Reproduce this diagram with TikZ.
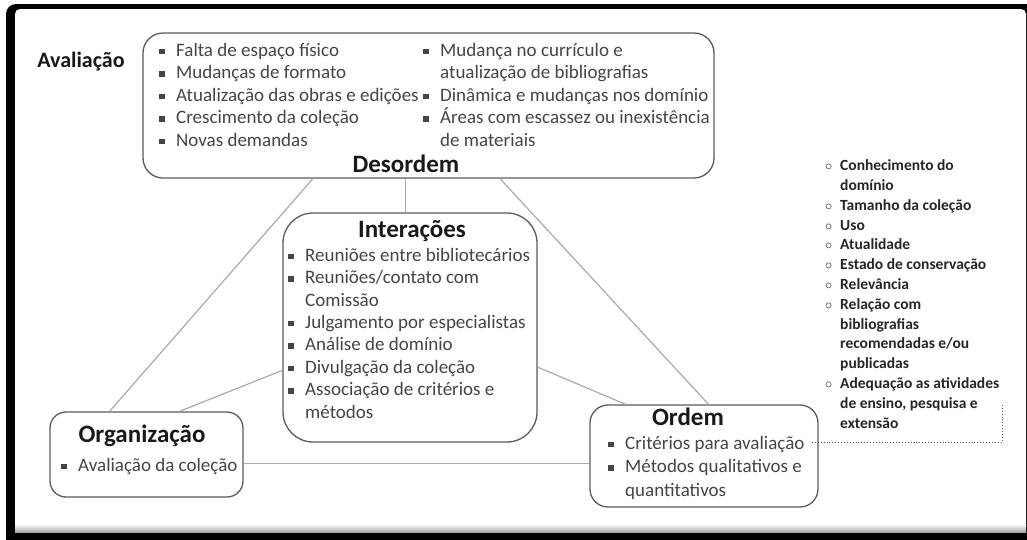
\documentclass[tikz,border=0pt]{standalone}
\usepackage{fontspec}
\setmainfont{Carlito}
\usetikzlibrary{calc}
\definecolor{itemgray}{HTML}{454545}
\definecolor{linkgray}{HTML}{ABABAB}
\definecolor{boxgray}{HTML}{5C5C5C}
\newcommand{\sqb}{\makebox[17pt][l]{\raisebox{2pt}{\rule{5.5pt}{5.5pt}}}}
\newcommand{\cnt}{\hspace*{17pt}}
\newcommand{\ob}{\makebox[15pt][l]{$\circ$}}

\begin{document}
\begin{tikzpicture}[x=1pt,y=-1pt,
    box/.style={draw=boxgray, line width=1.3pt, rounded corners=#1, inner sep=0pt},
    box/.default=18pt,
    title/.style={font=\fontsize{25}{30}\selectfont\bfseries, text=black!90, anchor=base},
    items/.style={font=\fontsize{19}{22.5}\selectfont, text=itemgray, align=left, inner sep=0pt, anchor=base west},
    crit/.style={font=\fontsize{15.5}{19.8}\selectfont\bfseries, text=black!85, align=left, inner sep=0pt, anchor=base west},
    link/.style={draw=linkgray, line width=1.2pt}]
    \useasboundingbox (0,0) rectangle (1027,539);
    % frame
    \fill[black, rounded corners=10pt] (6,4) rectangle (1045,560);
    \fill[white, rounded corners=5pt] (15,9) rectangle (1026,532);
    \shade[top color=white, bottom color=gray!70] (15,524) rectangle (1026,532);

    \node[box=20pt, minimum width=571pt, minimum height=145pt] (des) at (428.5,105.5) {};
    \node[box=30pt, minimum width=254pt, minimum height=229pt] (int) at (410,327.5) {};
    \node[box=16pt, minimum width=193pt, minimum height=85pt] (org) at (146.5,454.5) {};
    \node[box=18pt, minimum width=228pt, minimum height=102pt] (ord) at (704,456) {};

    \node[title, font=\fontsize{22}{26}\selectfont\bfseries] (aval) at (81,67) {Avaliação};
    \node[title] (desT) at (406,172) {Desordem};
    \node[title] (intT) at (412,237) {Interações};
    \node[title] (orgT) at (142,442) {Organização};
    \node[title] (ordT) at (688,425) {Ordem};

    % multi-line nodes sit on the baseline of their last line
    \node[items] (desL) at (159,146) {\sqb Falta de espaço físico\\ \sqb Mudanças de formato\\
      \sqb Atualização das obras e edições\\ \sqb Crescimento da coleção\\ \sqb Novas demandas};
    \node[items] (desR) at (423,146) {\sqb Mudança no currículo e\\ \cnt atualização de bibliografias\\
      \sqb Dinâmica e mudanças nos domínio\\ \sqb Áreas com escassez ou inexistência\\ \cnt de materiais};
    \node[items, font=\fontsize{19}{22.4}\selectfont] (intL) at (288,418) {\sqb Reuniões entre bibliotecários\\ \sqb Reuniões/contato com\\
      \cnt Comissão\\ \sqb Julgamento por especialistas\\ \sqb Análise de domínio\\
      \sqb Divulgação da coleção\\ \sqb Associação de critérios e\\ \cnt métodos};
    \node[items] (orgL) at (61,471) {\sqb Avaliação da coleção};
    \node[items, font=\fontsize{19}{23.5}\selectfont] (ordL) at (608,496) {\sqb Critérios para avaliação\\
      \sqb Métodos qualitativos e\\ \cnt quantitativos};
    \node[crit] (lst) at (825,428) {\ob Conhecimento do\\ \hspace*{15pt}domínio\\ \ob Tamanho da coleção\\
      \ob Uso\\ \ob Atualidade\\ \ob Estado de conservação\\ \ob Relevância\\ \ob Relação com\\
      \hspace*{15pt}bibliografias\\ \hspace*{15pt}recomendadas e/ou\\ \hspace*{15pt}publicadas\\
      \ob Adequação as atividades\\ \hspace*{15pt}de ensino, pesquisa e\\ \hspace*{15pt}extensão};

    \coordinate (dv) at ($(des.south west)!.46!(des.south east)$);
    \coordinate (oh) at ($(org.north east)!.6!(org.south east)$);
    \draw[link] ($(des.south west)!.298!(des.south east)$) -- ($(org.north west)!.31!(org.north east)$);
    \draw[link] (dv) -- (dv |- int.north);
    \draw[link] ($(des.south west)!.625!(des.south east)$) -- ($(ord.north west)!.52!(ord.north east)$);
    \draw[link] ($(int.north west)!.686!(int.south west)$) -- ($(org.north west)!.67!(org.north east)$);
    \draw[link] ($(int.north east)!.672!(int.south east)$) -- ($(ord.north west)!.158!(ord.north east)$);
    \draw[link] (oh) -- (oh -| ord.west);

    \coordinate (critend) at (812,442);
    \coordinate (lstend) at (1002,404);
    \draw[dotted, line width=.9pt, boxgray] (critend) -| (lstend);
\end{tikzpicture}
\end{document}
